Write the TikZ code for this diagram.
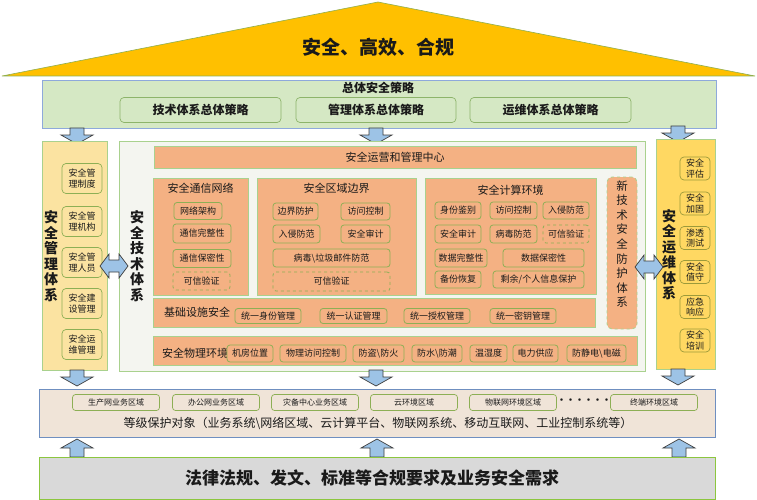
\documentclass[tikz,border=0pt]{standalone}
\usepackage{fontspec}
\setmainfont{Noto Sans CJK SC}
\definecolor{roofc}{HTML}{FFC000}
\definecolor{roofline}{HTML}{8FAF4F}
\definecolor{bandfill}{HTML}{D5E8C4}
\definecolor{bandline}{HTML}{8EA9DB}
\definecolor{sboxline}{HTML}{8DB46A}
\definecolor{mgmtfill}{HTML}{FBE3A1}
\definecolor{greenline}{HTML}{A9D18E}
\definecolor{opsfill}{HTML}{FFD862}
\definecolor{oboxline}{HTML}{9C9A3A}
\definecolor{panelfill}{HTML}{F4F5F0}
\definecolor{orangec}{HTML}{F4B183}
\definecolor{subline}{HTML}{8DAF55}
\definecolor{arrowfill}{HTML}{9DC3E6}
\definecolor{arrowline}{HTML}{3F3F3F}
\definecolor{levelfill}{HTML}{F0E4D8}
\definecolor{levelline}{HTML}{6F8FC0}
\definecolor{lawfill}{HTML}{D9D9D9}
\definecolor{lawline}{HTML}{8CC63F}
\definecolor{txt}{HTML}{1A1A1A}
\begin{document}
\begin{tikzpicture}[x=1pt,y=-1pt]
    \tikzset{base/.style={inner sep=0pt,align=center,text=txt},
        band/.style={base,draw=bandline,fill=bandfill,line width=0.8pt},
        sbox/.style={base,draw=sboxline,fill=bandfill,rounded corners=4pt,line width=0.7pt,font=\fontsize{12}{14}\selectfont\bfseries},
        mgmtcol/.style={base,draw=greenline,fill=mgmtfill,line width=0.8pt},
        opscol/.style={base,draw=greenline,fill=opsfill,line width=0.8pt},
        mbox/.style={base,draw=subline,fill=mgmtfill,rounded corners=4pt,line width=0.7pt,minimum width=40,minimum height=30,font=\fontsize{9}{10.5}\selectfont},
        obox/.style={base,draw=oboxline,fill=opsfill,rounded corners=4pt,line width=0.7pt,minimum width=30,minimum height=23,font=\fontsize{9}{10.5}\selectfont},
        vtitle/.style={base,font=\fontsize{14}{15.5}\selectfont\bfseries},
        panel/.style={base,draw=greenline,fill=panelfill,line width=0.8pt},
        zone/.style={base,draw=greenline,fill=orangec,line width=0.8pt},
        ztitle/.style={base,font=\fontsize{11}{13}\selectfont},
        sub/.style={base,draw=subline,fill=orangec,rounded corners=3pt,line width=0.8pt,font=\fontsize{9}{11}\selectfont},
        dsub/.style={sub,dashed},
        area/.style={base,draw=subline,fill=levelfill,rounded corners=3pt,line width=0.7pt,minimum width=87,minimum height=16,font=\fontsize{8}{10}\selectfont},
        blockarrow/.style={draw=arrowline,fill=arrowfill,line width=0.7pt,line join=miter},
        pics/darrow/.style={code={\draw[blockarrow] (-7,0) -- (7,0) -- (7,7) -- (16,7) -- (0,16) -- (-16,7) -- (-7,7) -- cycle;}},
        pics/uarrow/.style={code={\draw[blockarrow] (-7,0) -- (7,0) -- (7,-9) -- (16,-9) -- (0,-18) -- (-16,-9) -- (-7,-9) -- cycle;}},
        pics/dblarrow/.style={code={\draw[blockarrow] (-14,0) -- (-5,-12) -- (-5,-6) -- (5,-6) -- (5,-12) -- (14,0) -- (5,12) -- (5,6) -- (-5,6) -- (-5,12) -- cycle;}}}
    \useasboundingbox (0,0) rectangle (757,500);
    \fill[white] (0,0) rectangle (757,500);
    \draw[draw=roofline,fill=roofc,line width=0.6pt] (2,76) -- (378,2) -- (755,76) -- cycle;
    \node[base,font=\fontsize{19}{22}\selectfont\bfseries] (goal) at (378,47) {安全、高效、合规};
    \node[band,minimum width=674,minimum height=48] (strategy) at (379,104) {};
    \node[base,font=\fontsize{12}{14}\selectfont\bfseries] (strategytitle) at (378,88) {总体安全策略};
    \node[sbox,minimum width=161,minimum height=25] (techstrategy) at (200.5,110) {技术体系总体策略};
    \node[sbox,minimum width=160,minimum height=25] (mgmtstrategy) at (376,110) {管理体系总体策略};
    \node[sbox,minimum width=161,minimum height=25] (opsstrategy) at (550.5,110) {运维体系总体策略};
    \pic at (77,128) {darrow};
    \pic at (376,128) {darrow};
    \pic at (678,126) {darrow};
    \node[mgmtcol,minimum width=65,minimum height=229] (mgmt) at (74.5,255.5) {};
    \node[vtitle] (mgmttitle) at (51,256) {安\\全\\管\\理\\体\\系};
    \node[mbox] (mgmtrule) at (82,178.5) {安全管\\理制度};
    \node[mbox] (mgmtorg) at (82,221.5) {安全管\\理机构};
    \node[mbox] (mgmtstaff) at (82,262.5) {安全管\\理人员};
    \node[mbox] (mgmtbuild) at (82,303.5) {安全建\\设管理};
    \node[mbox] (mgmtops) at (82,344.5) {安全运\\维管理};
    \node[panel,minimum width=526,minimum height=230] (tech) at (382,256) {};
    \node[vtitle] (techtitle) at (137,256) {安\\全\\技\\术\\体\\系};
    \node[zone,minimum width=482,minimum height=22] (opscenter) at (395,157) {};
    \node[ztitle] (opscentertitle) at (395,157) {安全运营和管理中心};
    \node[zone,minimum width=95,minimum height=117] (comm) at (200.5,236.5) {};
    \node[ztitle] (commtitle) at (200.5,188) {安全通信网络};
    \node[sub,minimum width=48,minimum height=17] (commarch) at (198,211) {网络架构};
    \node[sub,minimum width=58,minimum height=19] (comminteg) at (202,233.5) {通信完整性};
    \node[sub,minimum width=58,minimum height=18] (commconf) at (202,258.5) {通信保密性};
    \node[dsub,minimum width=57,minimum height=18] (commtrust) at (201.5,281) {可信验证};
    \node[zone,minimum width=159,minimum height=117] (bound) at (336.5,236.5) {};
    \node[ztitle] (boundtitle) at (336.5,188) {安全区域边界};
    \node[sub,minimum width=45,minimum height=17] (boundprot) at (295.5,211.5) {边界防护};
    \node[sub,minimum width=49,minimum height=17] (boundacc) at (365.5,211.5) {访问控制};
    \node[sub,minimum width=47,minimum height=18] (boundintr) at (296.5,234) {入侵防范};
    \node[sub,minimum width=49,minimum height=18] (boundaudit) at (365.5,234) {安全审计};
    \node[sub,minimum width=117,minimum height=18] (boundvirus) at (331.5,258) {病毒\textbackslash 垃圾邮件防范};
    \node[dsub,minimum width=117,minimum height=19] (boundtrust) at (331.5,281.5) {可信验证};
    \node[zone,minimum width=171,minimum height=116] (comp) at (510.5,236) {};
    \node[ztitle] (comptitle) at (510.5,190) {安全计算环境};
    \node[sub,minimum width=46,minimum height=17] (compid) at (458,210.5) {身份鉴别};
    \node[sub,minimum width=47,minimum height=17] (compacc) at (513.5,210.5) {访问控制};
    \node[sub,minimum width=46,minimum height=17] (compintr) at (566,210.5) {入侵防范};
    \node[sub,minimum width=46,minimum height=18] (compaudit) at (458,234) {安全审计};
    \node[sub,minimum width=47,minimum height=18] (compvirus) at (513.5,234) {病毒防范};
    \node[dsub,minimum width=46,minimum height=18] (comptrust) at (566,234) {可信验证};
    \node[sub,minimum width=52,minimum height=18] (compinteg) at (461,258) {数据完整性};
    \node[sub,minimum width=81,minimum height=18] (compconf) at (543.5,258) {数据保密性};
    \node[sub,minimum width=46,minimum height=17] (compbackup) at (458,279.5) {备份恢复};
    \node[sub,minimum width=91,minimum height=17] (compprivacy) at (538.5,279.5) {剩余/个人信息保护};
    \node[zone,dashed,rounded corners=5pt,minimum width=30,minimum height=152] (newtech) at (622,253) {};
    \node[base,font=\fontsize{11.5}{14.6}\selectfont] (newtechtitle) at (622,244) {新\\技\\术\\安\\全\\防\\护\\体\\系};
    \node[zone,minimum width=442,minimum height=29] (infra) at (374,312.5) {};
    \node[ztitle] (infratitle) at (197,312) {基础设施安全};
    \node[sub,minimum width=66,minimum height=15] (infraid) at (268,316) {统一身份管理};
    \node[sub,minimum width=67,minimum height=15] (infraauth) at (353.5,316) {统一认证管理};
    \node[sub,minimum width=66,minimum height=15] (infraperm) at (437,316) {统一授权管理};
    \node[sub,minimum width=66,minimum height=15] (infrakey) at (523,316) {统一密钥管理};
    \node[zone,minimum width=484,minimum height=29] (phys) at (395,350.5) {};
    \node[ztitle] (phystitle) at (195,353) {安全物理环境};
    \node[sub,minimum width=46,minimum height=17] (physroom) at (250,353.5) {机房位置};
    \node[sub,minimum width=66,minimum height=17] (physacc) at (313,353.5) {物理访问控制};
    \node[sub,minimum width=51,minimum height=17] (physfire) at (378.5,353.5) {防盗\textbackslash 防火};
    \node[sub,minimum width=50,minimum height=17] (physwater) at (437,353.5) {防水\textbackslash 防潮};
    \node[sub,minimum width=37,minimum height=17] (physhum) at (488.5,353.5) {温湿度};
    \node[sub,minimum width=45,minimum height=17] (physpower) at (535.5,353.5) {电力供应};
    \node[sub,minimum width=59,minimum height=17] (physstatic) at (596.5,353.5) {防静电\textbackslash 电磁};
    \node[opscol,minimum width=59,minimum height=230] (ops) at (685.5,254) {};
    \node[vtitle] (opstitle) at (669,254.5) {安\\全\\运\\维\\体\\系};
    \node[obox] (opsassess) at (695,168.5) {安全\\评估};
    \node[obox] (opsharden) at (695,203.5) {安全\\加固};
    \node[obox] (opspentest) at (695,238) {渗透\\测试};
    \node[obox] (opsduty) at (695,272) {安全\\值守};
    \node[obox] (opsresp) at (695,307) {应急\\响应};
    \node[obox] (opstrain) at (695,340.5) {安全\\培训};
    \pic at (114,266) {dblarrow};
    \pic at (649,267) {dblarrow};
    \pic at (77,370) {darrow};
    \pic at (376,370) {darrow};
    \pic at (678,369) {darrow};
    \node[base,draw=levelline,fill=levelfill,line width=0.8pt,minimum width=676,minimum height=48] (level) at (377,413) {};
    \node[area] (areaprod) at (116,402.5) {生产网业务区域};
    \node[area] (areaoffice) at (216,402.5) {办公网业务区域};
    \node[area] (areabackup) at (315,402.5) {灾备中心业务区域};
    \node[area] (areacloud) at (414,402.5) {云环境区域};
    \node[area] (areaiot) at (513,402.5) {物联网环境区域};
    \node[base,font=\fontsize{9}{10}\selectfont\bfseries] (areamore) at (584,401.5) {······};
    \node[area] (areaterm) at (654,402.5) {终端环境区域};
    \node[base,font=\fontsize{12}{14}\selectfont] (leveltext) at (378,423) {等级保护对象（业务系统\textbackslash 网络区域、云计算平台、物联网系统、移动互联网、工业控制系统等）};
    \pic at (77,457) {uarrow};
    \pic at (377,457) {uarrow};
    \pic at (679,457) {uarrow};
    \node[base,draw=lawline,fill=lawfill,line width=1pt,minimum width=676,minimum height=42] (law) at (377,478.5) {};
    \node[base,font=\fontsize{17}{20}\selectfont\bfseries] (lawtext) at (372,478) {法律法规、发文、标准等合规要求及业务安全需求};
\end{tikzpicture}
\end{document}
